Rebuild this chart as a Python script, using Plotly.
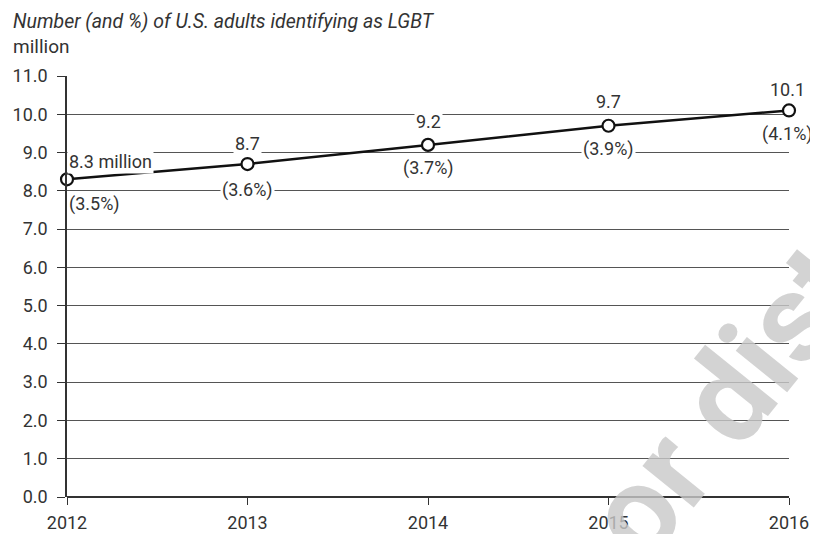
import plotly.graph_objects as go

years = [2012, 2013, 2014, 2015, 2016]
values = [8.3, 8.7, 9.2, 9.7, 10.1]
top_labels = ["8.3 million", "8.7", "9.2", "9.7", "10.1"]
pct_labels = ["(3.5%)", "(3.6%)", "(3.7%)", "(3.9%)", "(4.1%)"]
y_ticks = [i * 1.0 for i in range(12)]
y_tick_text = [f"{v:.1f}" for v in y_ticks]

FONT = "Roboto, 'Open Sans', sans-serif"
TXT = "#333333"

fig = go.Figure()
fig.add_trace(go.Scatter(
    x=years, y=values, mode="lines+markers",
    line=dict(color="#111111", width=2.5),
    marker=dict(size=12, color="white", line=dict(color="#111111", width=2.2)),
    hoverinfo="skip", showlegend=False, cliponaxis=False,
))

top_shift = [18, 21, 23, 24, 21]
bot_shift = [-25, -26, -23, -23, -24]
x_shift = [0, 0, 0, 0, -2]
anns = []
for i, (yr, v) in enumerate(zip(years, values)):
    anchor = "left" if i == 0 else "center"
    anns.append(dict(x=yr, y=v, text=top_labels[i], showarrow=False, xanchor=anchor,
                     yanchor="middle", yshift=top_shift[i], xshift=x_shift[i],
                     bgcolor="white", borderpad=1,
                     font=dict(family=FONT, size=18, color=TXT)))
    anns.append(dict(x=yr, y=v, text=pct_labels[i], showarrow=False, xanchor=anchor,
                     yanchor="middle", yshift=bot_shift[i], xshift=x_shift[i],
                     bgcolor="white", borderpad=1,
                     font=dict(family=FONT, size=18, color=TXT)))

# plot area: 722 x 421 px, left edge at 59 px in the figure
anns.append(dict(xref="paper", yref="paper", x=-0.077, y=1.1306, xanchor="left", yanchor="middle",
                 text="<i>Number (and %) of U.S. adults identifying as LGBT</i>", showarrow=False,
                 font=dict(family=FONT, size=19.5, color=TXT)))
anns.append(dict(xref="paper", yref="paper", x=-0.077, y=1.071, xanchor="left", yanchor="middle",
                 text="million", showarrow=False,
                 font=dict(family=FONT, size=19, color=TXT)))
# watermark
anns.append(dict(xref="paper", yref="paper", x=0.91, y=0.225, xanchor="center", yanchor="middle",
                 text="or dist", showarrow=False, textangle=-51,
                 font=dict(family=FONT, size=125, weight=700, color="rgba(200,200,200,0.8)")))

fig.update_layout(
    width=810, height=526,
    margin=dict(l=59, r=29, t=68, b=37),
    paper_bgcolor="white", plot_bgcolor="white",
    annotations=anns,
    xaxis=dict(range=[2012, 2016], tickvals=years, ticktext=[str(y) for y in years],
               showgrid=False, zeroline=False, showline=False, automargin=False,
               ticks="outside", ticklen=7, tickcolor="#333", tickwidth=1.2,
               ticklabelstandoff=2,
               tickfont=dict(family=FONT, size=18, color=TXT)),
    yaxis=dict(range=[0, 11], tickvals=y_ticks, ticktext=y_tick_text, automargin=False,
               showgrid=True, gridcolor="#555555", gridwidth=1.2,
               zeroline=True, zerolinecolor="#333333", zerolinewidth=1.5,
               showline=True, linecolor="#333333", linewidth=1.5,
               ticks="outside", ticklen=8, tickcolor="#333", tickwidth=1.2,
               ticklabelstandoff=6,
               tickfont=dict(family=FONT, size=18, color=TXT)),
)

fig.write_html("out.html")
